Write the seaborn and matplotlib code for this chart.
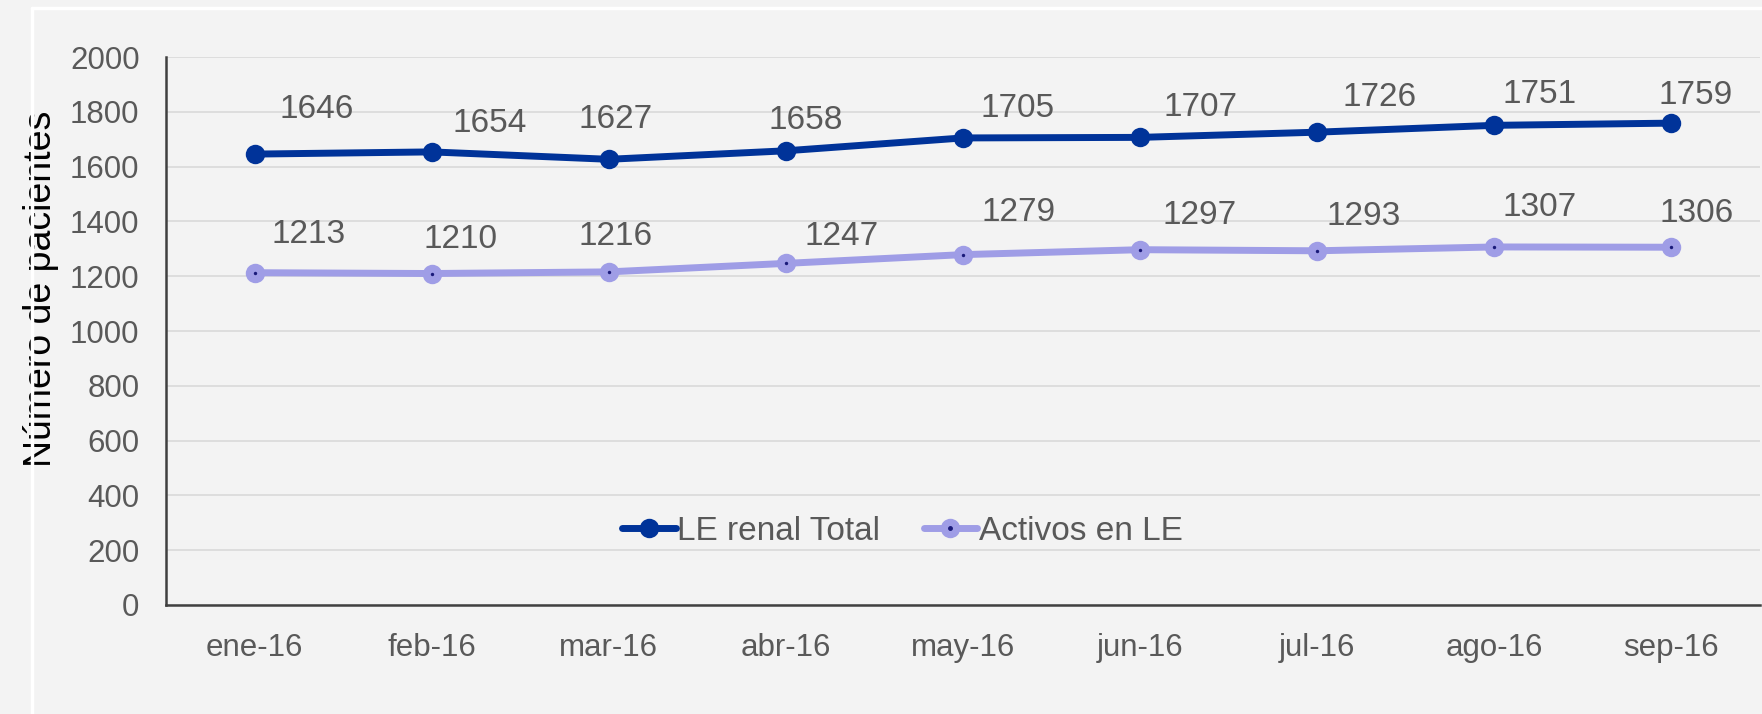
import matplotlib
import matplotlib.pyplot as plt
import pandas as pd
import seaborn as sns
from matplotlib.lines import Line2D

matplotlib.use("Agg")

months = ["ene-16", "feb-16", "mar-16", "abr-16", "may-16",
          "jun-16", "jul-16", "ago-16", "sep-16"]
le_total = [1646, 1654, 1627, 1658, 1705, 1707, 1726, 1751, 1759]
activos = [1213, 1210, 1216, 1247, 1279, 1297, 1293, 1307, 1306]

# label offsets in pixels (dx, dy)
total_offsets = [(62, 45), (58, 28), (7, 40), (20, 30), (55, 29),
                 (60, 30), (62, 35), (45, 31), (24, 28)]
activos_offsets = [(54, 38), (29, 34), (7, 35), (56, 27), (56, 42),
                   (60, 34), (46, 34), (45, 39), (25, 34)]

DARK = "#003399"
LIGHT = "#9f9de6"
DOT = "#1a1a7a"
TEXT = "#595959"
BG = "#f3f3f3"

sns.set_theme(style="whitegrid")
plt.rcParams["font.family"] = ["Liberation Sans", "DejaVu Sans"]

df = pd.DataFrame({"mes": months, "total": le_total, "activos": activos})

fig = plt.figure(figsize=(17.62, 7.14), dpi=100, facecolor=BG)
ax = fig.add_axes([0.0942, 0.1527, 0.9046, 0.7673])
ax.set_facecolor(BG)

sns.lineplot(data=df, x="mes", y="total", ax=ax, color=DARK, linewidth=5,
             marker="o", markersize=14, markeredgewidth=0, sort=False)
sns.lineplot(data=df, x="mes", y="activos", ax=ax, color=LIGHT, linewidth=5,
             marker="o", markersize=14, markeredgewidth=0, sort=False)
sns.scatterplot(data=df, x="mes", y="activos", ax=ax, color=DOT, s=6,
                linewidth=0, zorder=5)

for i, (v, off) in enumerate(zip(le_total, total_offsets)):
    ax.annotate(str(v), (i, v), xytext=off, textcoords="offset pixels",
                ha="center", va="center", fontsize=24, color=TEXT)
for i, (v, off) in enumerate(zip(activos, activos_offsets)):
    ax.annotate(str(v), (i, v), xytext=off, textcoords="offset pixels",
                ha="center", va="center", fontsize=24, color=TEXT)

ax.set_xlim(-0.5, len(months) - 0.5)
ax.set_ylim(0, 2000)
ax.set_yticks(range(0, 2001, 200))
ax.set_xlabel("")
ax.set_ylabel("Número de pacientes", fontsize=27, color="black")
ax.yaxis.set_label_coords(-0.067, 0.577)
ax.tick_params(axis="y", labelsize=22.5, labelcolor=TEXT, length=0, pad=19)
ax.tick_params(axis="x", labelsize=22.5, labelcolor=TEXT, length=0, pad=20)

ax.grid(axis="y", color="#d9d9d9", linewidth=1.2)
ax.grid(axis="x", visible=False)
for side in ["top", "right"]:
    ax.spines[side].set_visible(False)
for side in ["left", "bottom"]:
    ax.spines[side].set_color("#404040")
    ax.spines[side].set_linewidth(1.8)

h_total = Line2D([], [], color=DARK, linewidth=5, marker="o", markersize=14,
                 markeredgewidth=0)
h_act = Line2D([], [], color=LIGHT, linewidth=5, marker="o", markersize=14,
               markeredgewidth=0)
h_dot = Line2D([], [], color=DOT, linestyle="none", marker="o", markersize=2.5)
leg = ax.legend([h_total, (h_act, h_dot)], ["LE renal Total", "Activos en LE"],
                loc="center", bbox_to_anchor=(0.462, 0.135), ncol=2,
                frameon=False, fontsize=24, handlelength=1.6,
                handletextpad=0.05, columnspacing=1.3)
for t in leg.get_texts():
    t.set_color(TEXT)

# thin white frame of the slide background
fig.add_artist(Line2D([32 / 1762, 1], [1 - 8 / 714, 1 - 8 / 714],
                      color="white", linewidth=2.5))
fig.add_artist(Line2D([32 / 1762, 32 / 1762], [0, 1 - 8 / 714],
                      color="white", linewidth=2.5))

fig.savefig("out.png", dpi=100, facecolor=BG)
plt.close(fig)
